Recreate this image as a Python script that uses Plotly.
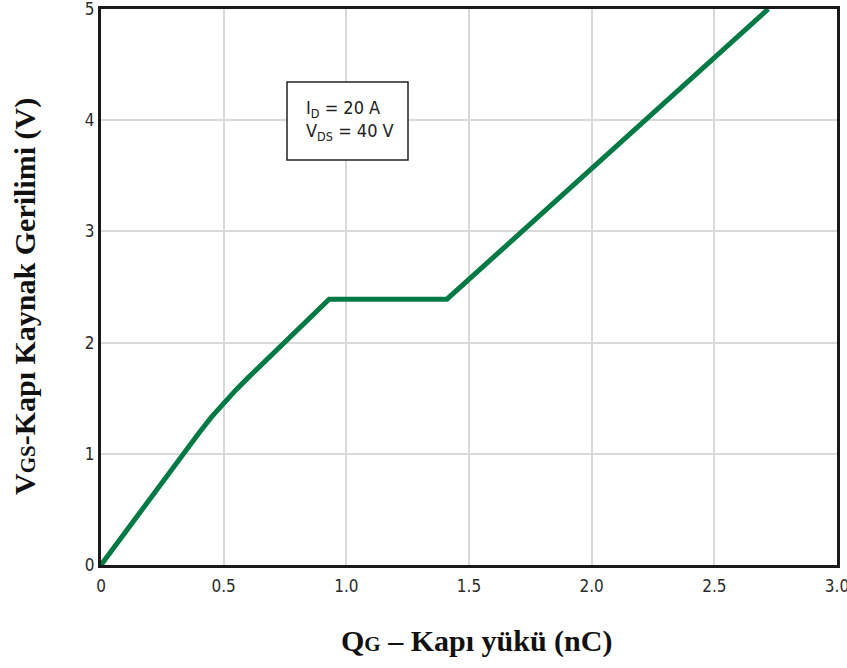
import plotly.graph_objects as go

# Gate charge curve: Q_G (nC) vs V_GS (V)
qg = [0.0, 0.3, 0.4, 0.45, 0.5, 0.55, 0.6, 0.68, 0.75, 0.85, 0.93, 1.41, 2.0, 2.5, 2.72]
vgs = [0.0, 0.9, 1.19, 1.33, 1.46, 1.575, 1.685, 1.855, 2.0, 2.21, 2.39, 2.39, 3.57, 4.57, 5.0]

x_ticks = [0, 0.5, 1.0, 1.5, 2.0, 2.5, 3.0]
x_labels = ["0", "0.5", "1.0", "1.5", "2.0", "2.5", "3.0"]
y_ticks = [0, 1, 2, 3, 4, 5]
y_labels = ["0", "1", "2", "3", "4", "5"]

cond = "DejaVu Sans Condensed, DejaVu Sans, sans-serif"
tick_font = dict(family=cond, size=17, color="#2a2a2a")
title_font = dict(family="Liberation Serif, Times New Roman, serif", size=30, color="#111111")

fig = go.Figure()
fig.add_trace(go.Scatter(x=qg, y=vgs, mode="lines",
                         line=dict(color="#007A45", width=5), showlegend=False,
                         cliponaxis=True))

fig.update_layout(
    width=847, height=668,
    margin=dict(l=101, r=10, t=9, b=103),
    paper_bgcolor="white", plot_bgcolor="white",
    xaxis=dict(range=[0, 3.0], tickvals=x_ticks, ticktext=x_labels,
               showgrid=True, gridcolor="#d9d9d9", gridwidth=1.5,
               showline=True, linecolor="#1a1a1a", linewidth=3, mirror=True,
               zeroline=False, ticks="", tickfont=tick_font, automargin=False,
               ticklabeloverflow="allow", ticklabelstandoff=4),
    yaxis=dict(range=[0, 5], tickvals=y_ticks, ticktext=y_labels,
               showgrid=True, gridcolor="#d9d9d9", gridwidth=1.5,
               showline=True, linecolor="#1a1a1a", linewidth=3, mirror=True,
               zeroline=False, ticks="", tickfont=tick_font, automargin=False,
               ticklabeloverflow="allow"),
    shapes=[dict(type="rect", xref="paper", yref="paper",
                 x0=(287 - 101) / 736, x1=(408 - 101) / 736,
                 y0=(565 - 160) / 556, y1=(565 - 82) / 556,
                 line=dict(color="#222222", width=1.5), fillcolor="white", layer="above")],
    annotations=[
        dict(xref="paper", yref="paper", x=(304 - 101) / 736, y=(565 - 121) / 556,
             text="I<sub>D</sub> = 20 A<br>V<sub>DS</sub> = 40 V",
             showarrow=False, align="left",
             font=dict(family=cond, size=18, color="#222222"),
             xanchor="left", yanchor="middle"),
        dict(xref="paper", yref="paper", x=(476 - 101) / 736, y=(565 - 641) / 556,
             text="<b>Q<span style='font-size:21px'>G</span> – Kapı yükü (nC)</b>",
             showarrow=False, font=title_font, xanchor="center", yanchor="middle"),
        dict(xref="paper", yref="paper", x=(25 - 101) / 736, y=(565 - 297) / 556,
             text="<b>V<span style='font-size:21px'>GS</span>-Kapı Kaynak Gerilimi (V)</b>",
             showarrow=False, font=title_font, textangle=-90,
             xanchor="center", yanchor="middle"),
    ],
)

fig.write_html("out.html")
